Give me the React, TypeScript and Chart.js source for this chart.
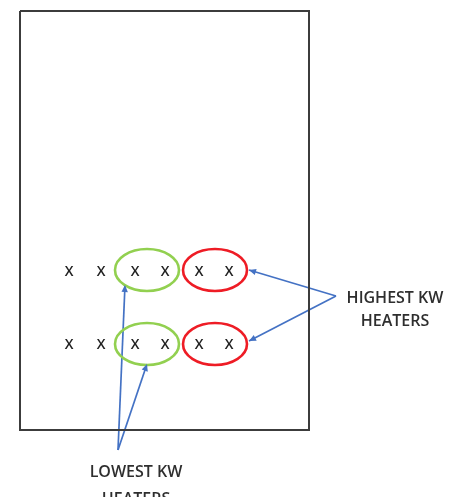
import React, { useEffect, useRef } from "react";
import { Chart, registerables } from "chart.js";

Chart.register(...registerables);

// Diagram units: 1 unit = 1 px of the 460 x 497 picture, y grows downward.
const FRAME_X = [20, 309, 309, 20, 20];
const FRAME_Y = [11, 11, 430, 430, 11];

const HEATER_COLUMNS = [69, 101, 135, 165, 199, 229];
const HEATER_ROWS = [272, 345];
const HEATER_MARK = "X";

const GROUP_ROWS = [270, 344];
const LOW_GROUP_X = 147;
const HIGH_GROUP_X = 215;
const GROUP_RX = 32;
const GROUP_RY = 21;

const HIGH_ARROW_TAIL = [336, 296];
const HIGH_ARROW_HEADS_X = [249, 249];
const HIGH_ARROW_HEADS_Y = [270, 341];

const LOW_ARROW_TAIL = [118, 450];
const LOW_ARROW_HEADS_X = [125, 147];
const LOW_ARROW_HEADS_Y = [285, 364];

const HIGH_LABEL = ["HIGHEST KW", "HEATERS"];
const HIGH_LABEL_X = 395;
const HIGH_LABEL_Y = [303, 326];

const LOW_LABEL = ["LOWEST KW", "HEATERS"];
const LOW_LABEL_X = 136;
const LOW_LABEL_Y = [477, 504];

const FONT = "'Open Sans', 'Noto Sans', sans-serif";

const diagramPlugin = {
  id: "diagramPlugin",
  afterDatasetsDraw(chart: any) {
    const ctx = chart.ctx;
    const xs = chart.scales.x;
    const ys = chart.scales.y;
    const px = (v: number) => xs.getPixelForValue(v);
    const py = (v: number) => ys.getPixelForValue(v);

    // group ellipses
    const groups = [
      { cx: LOW_GROUP_X, color: "#92D050" },
      { cx: HIGH_GROUP_X, color: "#EE1C25" },
    ];
    ctx.save();
    ctx.lineWidth = 2.6;
    groups.forEach((g) => {
      GROUP_ROWS.forEach((cy) => {
        const cxp = px(g.cx);
        const cyp = py(cy);
        const rx = Math.abs(px(g.cx + GROUP_RX) - cxp);
        const ry = Math.abs(py(cy + GROUP_RY) - cyp);
        ctx.beginPath();
        ctx.ellipse(cxp, cyp, rx, ry, 0, 0, Math.PI * 2);
        ctx.strokeStyle = g.color;
        ctx.stroke();
      });
    });
    ctx.restore();

    // heater marks and arrowheads
    chart.data.datasets.forEach((ds: any, i: number) => {
      const meta = chart.getDatasetMeta(i);
      if (ds.heaterMarks) {
        ctx.save();
        ctx.fillStyle = "#222222";
        ctx.font = `600 14px ${FONT}`;
        ctx.textAlign = "center";
        ctx.textBaseline = "middle";
        meta.data.forEach((el: any) => {
          ctx.fillText(HEATER_MARK, el.x, el.y);
        });
        ctx.restore();
      }
      if (ds.arrow) {
        const pts = meta.data;
        const p1 = pts[pts.length - 1];
        const p0 = pts[pts.length - 2];
        const a = Math.atan2(p1.y - p0.y, p1.x - p0.x);
        const len = 7;
        const hw = 3.2;
        ctx.save();
        ctx.fillStyle = ds.borderColor;
        ctx.beginPath();
        ctx.moveTo(p1.x, p1.y);
        ctx.lineTo(
          p1.x - len * Math.cos(a) + hw * Math.sin(a),
          p1.y - len * Math.sin(a) - hw * Math.cos(a)
        );
        ctx.lineTo(
          p1.x - len * Math.cos(a) - hw * Math.sin(a),
          p1.y - len * Math.sin(a) + hw * Math.cos(a)
        );
        ctx.closePath();
        ctx.fill();
        ctx.restore();
      }
    });

    // labels
    ctx.save();
    ctx.fillStyle = "#2e2e2e";
    ctx.font = `600 16px ${FONT}`;
    ctx.textAlign = "center";
    ctx.textBaseline = "alphabetic";
    HIGH_LABEL.forEach((t, k) => ctx.fillText(t, px(HIGH_LABEL_X), py(HIGH_LABEL_Y[k])));
    LOW_LABEL.forEach((t, k) => ctx.fillText(t, px(LOW_LABEL_X), py(LOW_LABEL_Y[k])));
    ctx.restore();
  },
};

export default function App() {
  const ref = useRef<HTMLCanvasElement | null>(null);

  useEffect(() => {
    if (!ref.current) return;

    const frame = FRAME_X.map((x, i) => ({ x, y: FRAME_Y[i] }));
    const heaters: { x: number; y: number }[] = [];
    HEATER_ROWS.forEach((y) => HEATER_COLUMNS.forEach((x) => heaters.push({ x, y })));

    const arrowColor = "#4472C4";
    const arrowDs = (tail: number[], hx: number, hy: number) => ({
      data: [
        { x: tail[0], y: tail[1] },
        { x: hx, y: hy },
      ],
      showLine: true,
      borderColor: arrowColor,
      borderWidth: 1.7,
      pointRadius: 0,
      arrow: true,
    });

    const datasets: any[] = [
      {
        data: frame,
        showLine: true,
        borderColor: "#3c3c3c",
        borderWidth: 2,
        pointRadius: 0,
        tension: 0,
      },
      {
        data: heaters,
        showLine: false,
        pointRadius: 0,
        heaterMarks: true,
      },
      ...HIGH_ARROW_HEADS_X.map((hx, k) => arrowDs(HIGH_ARROW_TAIL, hx, HIGH_ARROW_HEADS_Y[k])),
      ...LOW_ARROW_HEADS_X.map((hx, k) => arrowDs(LOW_ARROW_TAIL, hx, LOW_ARROW_HEADS_Y[k])),
    ];

    const chart = new Chart(ref.current, {
      type: "scatter",
      data: { datasets },
      options: {
        animation: false,
        responsive: false,
        events: [],
        layout: { padding: 0 },
        plugins: { legend: { display: false }, tooltip: { enabled: false } },
        scales: {
          x: { type: "linear", min: 0, max: 460, display: false },
          y: { type: "linear", min: 0, max: 497, reverse: true, display: false },
        },
      } as any,
      plugins: [diagramPlugin],
    });

    return () => chart.destroy();
  }, []);

  return (
    <div
      style={{
        position: "fixed",
        left: 0,
        top: 0,
        width: 460,
        height: 497,
        background: "#ffffff",
      }}
    >
      <canvas ref={ref} width={460} height={497} style={{ width: 460, height: 497 }} />
    </div>
  );
}
